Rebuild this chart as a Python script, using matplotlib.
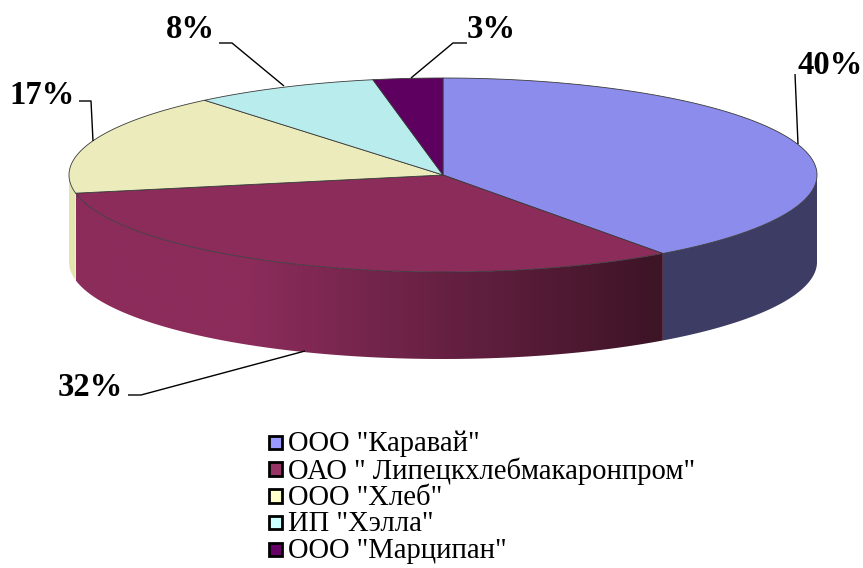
import numpy as np
import matplotlib
matplotlib.use("Agg")
import matplotlib.pyplot as plt
from matplotlib.patches import Polygon, Rectangle
from matplotlib.colors import to_rgb

plt.rcParams['font.family'] = ['Liberation Serif', 'DejaVu Serif']

names = ['ООО "Каравай"', 'ОАО " Липецкхлебмакаронпром"', 'ООО "Хлеб"', 'ИП "Хэлла"', 'ООО "Марципан"']
values = [40, 32, 17, 8, 3]
top_colors = ['#8C8CEC', '#8B2C5B', '#EBEBBB', '#B9ECEC', '#5E0060']
legend_colors = ['#9999FF', '#993366', '#FFFFCC', '#CCFFFF', '#660066']
side_colors = ['#3C3C64', '#8B2C5B', '#E4E4B0', '#B9ECEC', '#5E0060']
side_dark = '#3E1427'

CX, CY, A, B, DEPTH = 443, 175, 374, 97, 87

label_xy = [(830, 65), (90, 388), (42, 95), (190, 29), (491, 29)]
leaders = [
    [(795, 74), (798, 144)],
    [(128, 395), (141, 395), (305, 351)],
    [(79, 101), (91, 101), (93, 141)],
    [(219, 43), (232, 43), (284, 86)],
    [(467, 43), (453, 43), (411, 78)],
]

fig = plt.figure(figsize=(8.63, 5.68), dpi=100)
ax = fig.add_axes([0, 0, 1, 1])
ax.axis('off')


def pt(t, dy=0):
    t = np.radians(t)
    return CX + A * np.sin(t), CY - B * np.cos(t) + dy


edges = np.concatenate([[0], np.cumsum(values)]) / sum(values) * 360

# front wall, slice by slice
for i, (t0, t1) in enumerate(zip(edges[:-1], edges[1:])):
    lo, hi = max(t0, 90), min(t1, 270)
    if hi <= lo:
        continue
    ts = np.linspace(lo, hi, 200)
    xt, yt = pt(ts)
    xb, yb = pt(ts[::-1], DEPTH)
    wall = list(zip(xt, yt)) + list(zip(xb, yb))
    if i == 1:
        c0, c1 = np.array(to_rgb(side_colors[i])), np.array(to_rgb(side_dark))
        xg = np.linspace(xt.min(), xt.max(), 600)
        f = np.clip((xg - 250) / (655 - 250), 0, 1)[None, :, None]
        grad = c0[None, None, :] + (c1 - c0)[None, None, :] * f
        patch = Polygon(wall, closed=True, facecolor='none', edgecolor='none')
        ax.add_patch(patch)
        im = ax.imshow(grad, extent=(xt.min(), xt.max(), 400, 150), aspect='auto',
                       interpolation='bilinear', zorder=2)
        im.set_clip_path(patch)
    else:
        ax.add_patch(Polygon(wall, closed=True, facecolor=side_colors[i], edgecolor='none', zorder=2))

ax.set_xlim(0, 863)
ax.set_ylim(568, 0)

# top wedges
for i, (t0, t1) in enumerate(zip(edges[:-1], edges[1:])):
    ts = np.linspace(t0, t1, 200)
    xs, ys = pt(ts)
    poly = [(CX, CY)] + list(zip(xs, ys))
    ax.add_patch(Polygon(poly, closed=True, facecolor=top_colors[i], edgecolor='#3A3A3A',
                         linewidth=0.6, zorder=3, joinstyle='round'))

# leaders and percentage labels
for pts, (x, y), v in zip(leaders, label_xy, values):
    ax.plot(*zip(*pts), color='black', lw=1.0, zorder=4, solid_capstyle='butt')
    ax.text(x, y, f'{v}%', ha='center', va='center', fontsize=23.5, fontweight='bold', zorder=5)

# legend
for i, (n, c) in enumerate(zip(names, legend_colors)):
    y = 442 + 26.8 * i
    ax.add_patch(Rectangle((268.5, y - 6.5), 13.5, 13.5, facecolor=c, edgecolor='black', linewidth=2.0, zorder=4))
    ax.text(288, y + 2, n, ha='left', va='center', fontsize=20.6, zorder=5)

fig.savefig('out.png', dpi=100)
